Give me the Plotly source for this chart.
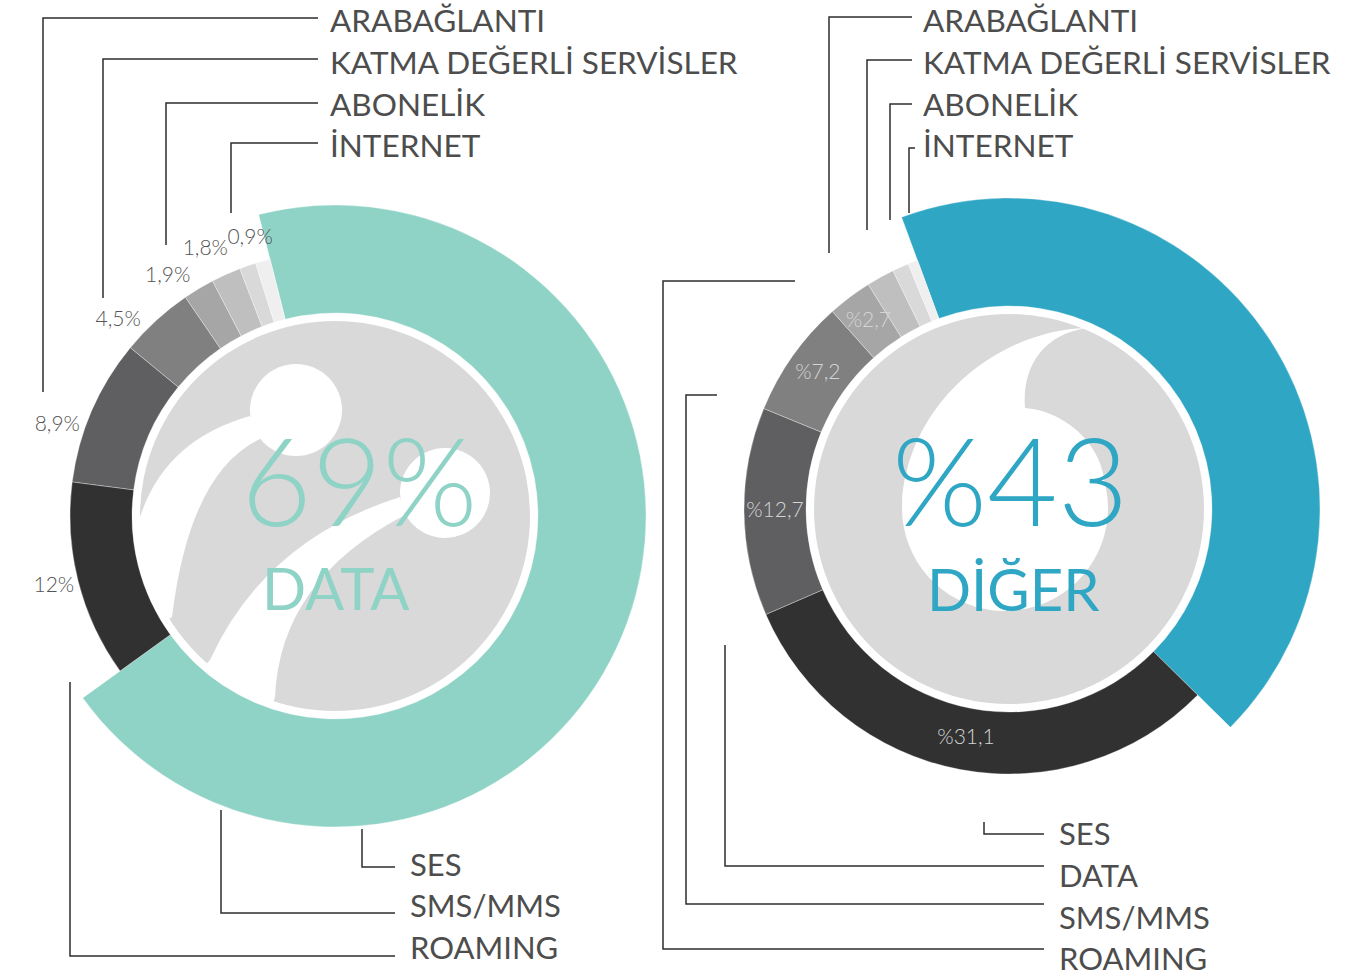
import numpy as np
import plotly.graph_objects as go

W, H = 1364, 976

# ---------------- data ----------------
left_values = [69, 12, 8.9, 4.5, 1.9, 1.8, 1.0, 0.9]
left_value_text = ["69%", "12%", "8,9%", "4,5%", "1,9%", "1,8%", "", "0,9%"]
left_center_label = "DATA"

right_values = [43, 31.1, 12.7, 7.2, 2.7, 1.7, 1.0, 0.6]
right_value_text = ["%43", "%31,1", "%12,7", "%7,2", "%2,7", "", "", ""]
right_center_label = "DİĞER"

top_categories = ["ARABAĞLANTI", "KATMA DEĞERLİ SERVİSLER", "ABONELİK", "İNTERNET"]
left_bottom_categories = ["SES", "SMS/MMS", "ROAMING"]
right_bottom_categories = ["SES", "DATA", "SMS/MMS", "ROAMING"]

# ---------------- styles ----------------
TEAL = "#8fd3c6"
BLUE = "#2ea6c4"
GREYS = ["#313131", "#5f5f61", "#808080", "#a6a6a6", "#bfbfbf", "#d9d9d9", "#efefef"]
left_colors = [TEAL] + GREYS
right_colors = [BLUE] + GREYS
TEXT = "#4d4d4d"
LINE = "#2e2e2e"
FONT = "Lato"

R_RANGE = 320          # radial axis range (pixels of radius)
R_CORE = 195           # grey disc
R_IN = 203             # ring inner radius
R_OUT = 265            # ring outer radius
R_HI = 311             # outer radius of the highlighted slice

LEFT_C = (335, 516)
RIGHT_C = (1009, 509)
LEFT_START = 345.8     # clockwise from 12 o'clock, where the highlighted slice begins
RIGHT_START = 339.8

# placement of the value labels around the left ring (radius, angular nudge)
left_label_r = [0, 290, 292, 292, 292, 296, 0, 290]
left_label_shift = [0, 0, -5.4, -5.5, -4, -1.7, 0, -1.2]


def slice_geometry(values, start):
    w = np.asarray(values, float) / np.sum(values) * 360.0
    ends = start + np.cumsum(w)
    mids = (ends - w / 2.0) % 360.0
    return w, mids


def polar_domain(c):
    cx, cy = c
    return dict(x=[(cx - R_RANGE) / W, (cx + R_RANGE) / W],
                y=[1 - (cy + R_RANGE) / H, 1 - (cy - R_RANGE) / H])


def ring_trace(values, start, colors, subplot):
    w, mids = slice_geometry(values, start)
    thick = [R_HI - R_IN] + [R_OUT - R_IN] * (len(values) - 1)
    return go.Barpolar(
        r=thick, base=[R_IN] * len(values), theta=mids, width=w,
        marker=dict(color=colors, line=dict(color="rgba(255,255,255,0.55)", width=0.6)),
        subplot=subplot, hoverinfo="skip", showlegend=False)


fig = go.Figure()

# invisible pixel-space axes for the decorations
fig.add_trace(go.Scatter(x=[], y=[], xaxis="x", yaxis="y", showlegend=False))

fig.add_trace(ring_trace(left_values, LEFT_START, left_colors, "polar"))
fig.add_trace(ring_trace(right_values, RIGHT_START, right_colors, "polar2"))

# value labels of the left ring sit outside the ring
lw, lmid = slice_geometry(left_values, LEFT_START)
idx = [i for i in range(1, len(left_values)) if left_value_text[i]]
fig.add_trace(go.Scatterpolar(
    r=[left_label_r[i] for i in idx],
    theta=[lmid[i] + left_label_shift[i] for i in idx],
    text=[left_value_text[i] for i in idx],
    mode="text", textfont=dict(family=FONT, size=21, color="#555555", weight=300),
    subplot="polar", hoverinfo="skip", showlegend=False))

# value labels of the right ring sit inside the ring
rw, rmid = slice_geometry(right_values, RIGHT_START)
idx = [i for i in range(1, len(right_values)) if right_value_text[i]]
fig.add_trace(go.Scatterpolar(
    r=[(R_IN + R_OUT) / 2] * len(idx),
    theta=[rmid[i] for i in idx],
    text=[right_value_text[i] for i in idx],
    mode="text", textfont=dict(family=FONT, size=21, color="#d4d4d4", weight=300),
    subplot="polar2", hoverinfo="skip", showlegend=False))

shapes = []

# grey discs
for (cx, cy) in (LEFT_C, RIGHT_C):
    shapes.append(dict(type="circle", xref="x", yref="y", x0=cx - R_CORE, x1=cx + R_CORE,
                       y0=cy - R_CORE, y1=cy + R_CORE, fillcolor="#d9d9d9",
                       line=dict(width=0), layer="below"))


def arc(cx, cy, r, a0, a1, n=24):
    t = np.radians(np.linspace(a0, a1, n))
    return [(cx + r * np.cos(a), cy + r * np.sin(a)) for a in t]


def ang(cx, cy, p):
    return np.degrees(np.arctan2(p[1] - cy, p[0] - cx))


def pts_L(pts):
    return " ".join(f"L{x:.1f},{y:.1f}" for x, y in pts)


# left emblem: two white heads and two swooping bands
cx, cy = LEFT_C
white = dict(fillcolor="white", line=dict(width=0), layer="below", xref="x", yref="y")
shapes.append(dict(type="circle", x0=296 - 46, x1=296 + 46, y0=410 - 46, y1=410 + 46, **white))
shapes.append(dict(type="circle", x0=445 - 45, x1=445 + 45, y0=493 - 45, y1=493 + 45, **white))

band1_a, band1_b = (140, 517), (172, 617)
a0, a1 = ang(cx, cy, band1_b), ang(cx, cy, band1_a)
p = (f"M{band1_a[0]},{band1_a[1]} Q165,440 250,416 L262,438 Q190,470 {band1_b[0]},{band1_b[1]} "
     + pts_L(arc(cx, cy, 199, a0, a1)) + " Z")
shapes.append(dict(type="path", path=p, **white))

band2_a, band2_b = (210, 660), (275, 697)
a0, a1 = ang(cx, cy, band2_b), ang(cx, cy, band2_a)
p = (f"M{band2_a[0]},{band2_a[1]} Q265,540 400,497 L405,515 Q280,580 {band2_b[0]},{band2_b[1]} "
     + pts_L(arc(cx, cy, 199, a0, a1)) + " Z")
shapes.append(dict(type="path", path=p, **white))

# right emblem: white speech mark
wc, wr = (1005, 508), 103
p = ("M1087,328 C1000,330 910,400 902,500 "
     + pts_L(arc(wc[0], wc[1], wr, 184.4, -15.4, 40))
     + " C1100,440 1060,410 1025,408 C1022,370 1040,335 1087,328 Z")
shapes.append(dict(type="path", path=p, **white))

# leader lines
leaders = [
    "M318,18 H43 V392", "M318,59 H103 V298", "M318,103 H166 V245", "M318,143 H231 V213",
    "M362,829 V867 H395", "M221,810 V913 H395", "M70,682 V956 H395",
    "M912,17 H829 V253", "M912,60 H867 V230", "M912,104 H890 V220", "M915,148 H909 V213",
    "M795,281 H663 V949 H1044", "M717,395 H686 V904 H1044",
    "M725,645 V866 H1044", "M984,822 V834 H1044",
]
for d in leaders:
    shapes.append(dict(type="path", path=d, xref="x", yref="y",
                       line=dict(color=LINE, width=1.5), layer="above"))

annotations = []


def label(text, x, y, size, color, weight=400, xanchor="left"):
    annotations.append(dict(text=text, x=x, y=y, xref="x", yref="y", showarrow=False,
                            xanchor=xanchor, yanchor="middle",
                            font=dict(family=FONT, size=size, color=color, weight=weight)))


top_y = [20, 62, 104, 145]
for name, y in zip(top_categories, top_y):
    label(name, 328, y, 31.5, TEXT)
    label(name, 921, y, 31.5, TEXT)
for name, y in zip(left_bottom_categories, [864, 905, 947]):
    label(name, 408, y, 31, TEXT)
for name, y in zip(right_bottom_categories, [833, 875, 917, 958]):
    label(name, 1057, y, 31, TEXT)

# headline figures in the middle of each ring
label(left_value_text[0], 359, 478.5, 122, TEAL, weight=300, xanchor="center")
label(left_center_label, 336, 587.5, 58, TEAL, weight=400, xanchor="center")
label(right_value_text[0], 1010, 479, 122, BLUE, weight=300, xanchor="center")
label(right_center_label, 1013, 588, 58, BLUE, weight=400, xanchor="center")

hidden = dict(visible=False)
fig.update_layout(
    width=W, height=H, margin=dict(l=0, r=0, t=0, b=0),
    paper_bgcolor="white", plot_bgcolor="rgba(0,0,0,0)", showlegend=False,
    xaxis=dict(range=[0, W], domain=[0, 1], visible=False, fixedrange=True),
    yaxis=dict(range=[H, 0], domain=[0, 1], visible=False, fixedrange=True),
    polar=dict(domain=polar_domain(LEFT_C), bgcolor="rgba(0,0,0,0)",
               radialaxis=dict(range=[0, R_RANGE], **hidden),
               angularaxis=dict(rotation=90, direction="clockwise", **hidden)),
    polar2=dict(domain=polar_domain(RIGHT_C), bgcolor="rgba(0,0,0,0)",
                radialaxis=dict(range=[0, R_RANGE], **hidden),
                angularaxis=dict(rotation=90, direction="clockwise", **hidden)),
    shapes=shapes, annotations=annotations,
)

fig.write_html("out.html", post_script="document.body.style.margin='0';document.body.style.overflow='hidden';")
